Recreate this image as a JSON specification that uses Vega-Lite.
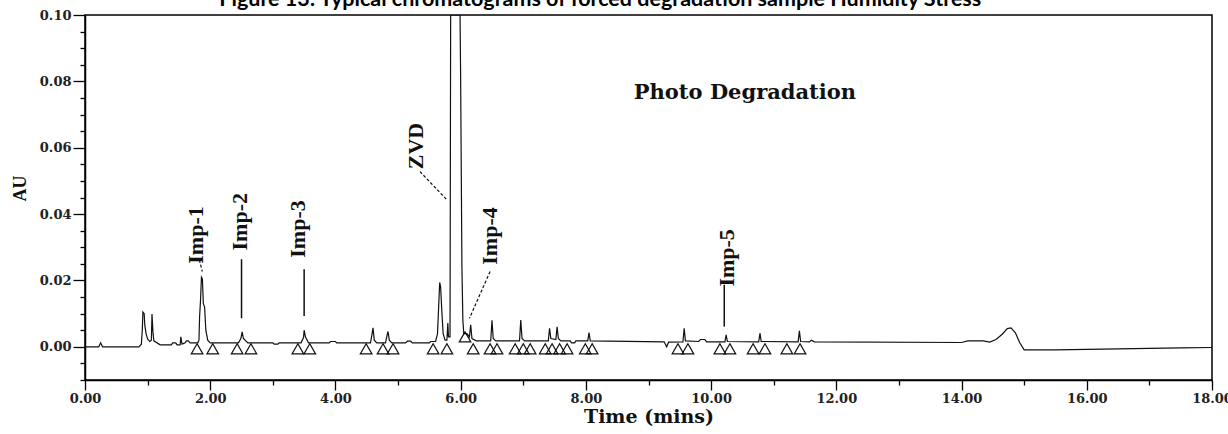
{
  "$schema": "https://vega.github.io/schema/vega-lite/v6.json",
  "width": 1127,
  "height": 365,
  "autosize": {"type": "none"},
  "padding": {"left": 85, "top": 15, "right": 16, "bottom": 54},
  "background": "white",
  "config": {
    "view": {"stroke": "#000", "strokeWidth": 1.5},
    "axis": {
      "domainColor": "#000",
      "domainWidth": 1.5,
      "tickColor": "#000",
      "tickWidth": 1.3,
      "labelFont": "DejaVu Serif",
      "labelFontWeight": "bold",
      "labelFontSize": 13,
      "labelColor": "#222",
      "titleColor": "#111",
      "titleFontWeight": "bold",
      "grid": false,
      "labelOverlap": false,
      "labelFlush": false
    }
  },
  "resolve": {"axis": {"y": "independent"}},
  "datasets": {
    "curve": [
      {"t": 0, "v": 0}, {"t": 0.22, "v": 0}, {"t": 0.25, "v": 0.0012}, {"t": 0.28, "v": 0},
      {"t": 0.86, "v": 0}, {"t": 0.9, "v": 0.0008}, {"t": 0.915, "v": 0.005}, {"t": 0.925, "v": 0.0105},
      {"t": 0.945, "v": 0.01}, {"t": 0.955, "v": 0.0066}, {"t": 0.975, "v": 0.004}, {"t": 1.0, "v": 0.0024},
      {"t": 1.035, "v": 0.0016}, {"t": 1.06, "v": 0.002}, {"t": 1.07, "v": 0.0099}, {"t": 1.085, "v": 0.0045},
      {"t": 1.1, "v": 0.0018}, {"t": 1.2, "v": 0.0006}, {"t": 1.38, "v": 0.0006}, {"t": 1.4, "v": 0.0012},
      {"t": 1.45, "v": 0.0012}, {"t": 1.47, "v": 0.0006}, {"t": 1.52, "v": 0.0006}, {"t": 1.53, "v": 0.003},
      {"t": 1.55, "v": 0.0008}, {"t": 1.6, "v": 0.0012}, {"t": 1.62, "v": 0.0018}, {"t": 1.65, "v": 0.0018},
      {"t": 1.68, "v": 0.0012}, {"t": 1.8, "v": 0.0012}, {"t": 1.82, "v": 0.002}, {"t": 1.83, "v": 0.009},
      {"t": 1.845, "v": 0.014}, {"t": 1.86, "v": 0.021}, {"t": 1.875, "v": 0.0205}, {"t": 1.89, "v": 0.013},
      {"t": 1.91, "v": 0.012}, {"t": 1.93, "v": 0.005}, {"t": 1.96, "v": 0.002}, {"t": 2.0, "v": 0.0012},
      {"t": 2.45, "v": 0.0012}, {"t": 2.49, "v": 0.0025}, {"t": 2.51, "v": 0.0045}, {"t": 2.53, "v": 0.0025},
      {"t": 2.6, "v": 0.0012}, {"t": 3.0, "v": 0.0012}, {"t": 3.02, "v": 0.0008}, {"t": 3.08, "v": 0.0008},
      {"t": 3.1, "v": 0.0012}, {"t": 3.45, "v": 0.0012}, {"t": 3.49, "v": 0.0028}, {"t": 3.5, "v": 0.005},
      {"t": 3.52, "v": 0.003}, {"t": 3.57, "v": 0.0012}, {"t": 3.9, "v": 0.0012}, {"t": 3.92, "v": 0.0016},
      {"t": 4.0, "v": 0.0016}, {"t": 4.02, "v": 0.0012}, {"t": 4.56, "v": 0.0012}, {"t": 4.59, "v": 0.0045},
      {"t": 4.6, "v": 0.0057}, {"t": 4.62, "v": 0.002}, {"t": 4.66, "v": 0.0012}, {"t": 4.8, "v": 0.0012},
      {"t": 4.83, "v": 0.004}, {"t": 4.84, "v": 0.0046}, {"t": 4.86, "v": 0.002}, {"t": 4.9, "v": 0.0012},
      {"t": 5.12, "v": 0.0012}, {"t": 5.15, "v": 0.0017}, {"t": 5.2, "v": 0.0017}, {"t": 5.23, "v": 0.0012},
      {"t": 5.5, "v": 0.0012}, {"t": 5.52, "v": 0.0016}, {"t": 5.6, "v": 0.0016}, {"t": 5.63, "v": 0.004},
      {"t": 5.645, "v": 0.0106}, {"t": 5.665, "v": 0.0194}, {"t": 5.68, "v": 0.018}, {"t": 5.7, "v": 0.0105},
      {"t": 5.72, "v": 0.004}, {"t": 5.75, "v": 0.002}, {"t": 5.78, "v": 0.002}, {"t": 5.795, "v": 0.0072},
      {"t": 5.805, "v": 0.003}, {"t": 5.83, "v": 0.003}, {"t": 5.84, "v": 0.1}, {"t": 5.99, "v": 0.1},
      {"t": 6.0, "v": 0.08}, {"t": 6.02, "v": 0.024}, {"t": 6.035, "v": 0.008},
      {"t": 6.05, "v": 0.004}, {"t": 6.1, "v": 0.004}, {"t": 6.14, "v": 0.003}, {"t": 6.16, "v": 0.0066},
      {"t": 6.18, "v": 0.0025}, {"t": 6.25, "v": 0.0018}, {"t": 6.48, "v": 0.0018}, {"t": 6.5, "v": 0.008},
      {"t": 6.52, "v": 0.0025}, {"t": 6.56, "v": 0.0018}, {"t": 6.94, "v": 0.0018}, {"t": 6.96, "v": 0.0081},
      {"t": 6.98, "v": 0.0025}, {"t": 7.02, "v": 0.0018}, {"t": 7.4, "v": 0.0018}, {"t": 7.42, "v": 0.0056},
      {"t": 7.44, "v": 0.0025}, {"t": 7.52, "v": 0.0022}, {"t": 7.54, "v": 0.006}, {"t": 7.56, "v": 0.0025},
      {"t": 7.6, "v": 0.0018}, {"t": 7.75, "v": 0.0018}, {"t": 7.77, "v": 0.0012}, {"t": 7.82, "v": 0.0012},
      {"t": 7.84, "v": 0.0018}, {"t": 8.03, "v": 0.0018}, {"t": 8.05, "v": 0.0043}, {"t": 8.07, "v": 0.0018},
      {"t": 9.25, "v": 0.0015}, {"t": 9.29, "v": 0.0}, {"t": 9.32, "v": 0.0014}, {"t": 9.55, "v": 0.0015},
      {"t": 9.57, "v": 0.0056}, {"t": 9.59, "v": 0.0018}, {"t": 9.8, "v": 0.0016}, {"t": 9.83, "v": 0.0022},
      {"t": 9.9, "v": 0.0022}, {"t": 9.93, "v": 0.0015}, {"t": 10.22, "v": 0.0015}, {"t": 10.24, "v": 0.0036},
      {"t": 10.26, "v": 0.0016}, {"t": 10.76, "v": 0.0015}, {"t": 10.78, "v": 0.0041}, {"t": 10.8, "v": 0.0016},
      {"t": 11.39, "v": 0.0015}, {"t": 11.41, "v": 0.0048}, {"t": 11.43, "v": 0.0016}, {"t": 11.57, "v": 0.0015},
      {"t": 11.6, "v": 0.002}, {"t": 11.65, "v": 0.0015}, {"t": 14.0, "v": 0.0013}, {"t": 14.1, "v": 0.0018},
      {"t": 14.35, "v": 0.0018}, {"t": 14.45, "v": 0.0014}, {"t": 14.55, "v": 0.0022}, {"t": 14.65, "v": 0.0038},
      {"t": 14.73, "v": 0.0055}, {"t": 14.79, "v": 0.0057}, {"t": 14.86, "v": 0.0042}, {"t": 14.93, "v": 0.0012},
      {"t": 15.0, "v": -0.0009}, {"t": 15.5, "v": -0.0009}, {"t": 16.5, "v": -0.0006}, {"t": 17.5, "v": -0.0003},
      {"t": 18.0, "v": -0.0002}
    ],
    "tri": [
      {"t": 1.79, "v": -0.0006}, {"t": 2.04, "v": -0.0006}, {"t": 2.43, "v": -0.0006}, {"t": 2.65, "v": -0.0006},
      {"t": 3.4, "v": -0.0006}, {"t": 3.59, "v": -0.0006}, {"t": 4.49, "v": -0.0006}, {"t": 4.76, "v": -0.0006},
      {"t": 4.92, "v": -0.0006}, {"t": 5.56, "v": -0.0006}, {"t": 5.78, "v": -0.0006}, {"t": 6.07, "v": 0.003},
      {"t": 6.2, "v": -0.0006}, {"t": 6.47, "v": -0.0006}, {"t": 6.58, "v": -0.0006}, {"t": 6.87, "v": -0.0006},
      {"t": 7.0, "v": -0.0006}, {"t": 7.11, "v": -0.0006}, {"t": 7.35, "v": -0.0006}, {"t": 7.46, "v": -0.0006},
      {"t": 7.58, "v": -0.0006}, {"t": 7.7, "v": -0.0006}, {"t": 7.99, "v": -0.0006}, {"t": 8.1, "v": -0.0006},
      {"t": 9.47, "v": -0.0006}, {"t": 9.63, "v": -0.0006}, {"t": 10.14, "v": -0.0006}, {"t": 10.3, "v": -0.0006},
      {"t": 10.67, "v": -0.0006}, {"t": 10.86, "v": -0.0006}, {"t": 11.21, "v": -0.0006}, {"t": 11.42, "v": -0.0006}
    ],
    "leadSolid": [
      {"t": 2.5, "v": 0.0264, "t2": 2.5, "v2": 0.0086},
      {"t": 3.5, "v": 0.0234, "t2": 3.5, "v2": 0.0093},
      {"t": 10.21, "v": 0.0187, "t2": 10.21, "v2": 0.0061}
    ],
    "leadDash": [
      {"t": 1.826, "v": 0.0262, "t2": 1.874, "v2": 0.0227},
      {"t": 5.35, "v": 0.0528, "t2": 5.78, "v2": 0.0443},
      {"t": 6.47, "v": 0.0227, "t2": 6.14, "v2": 0.0086}
    ],
    "labels": [
      {"t": 1.77, "v": 0.0337, "label": "Imp-1"},
      {"t": 2.48, "v": 0.0377, "label": "Imp-2"},
      {"t": 3.4, "v": 0.0355, "label": "Imp-3"},
      {"t": 5.29, "v": 0.0605, "label": "ZVD"},
      {"t": 6.47, "v": 0.0334, "label": "Imp-4"},
      {"t": 10.25, "v": 0.0268, "label": "Imp-5"}
    ],
    "annot": [
      {"t": 10.54, "v": 0.0765, "label": "Photo  Degradation"}
    ],
    "heading": [
      {"t": 8.23, "v": 0.1027, "label": "Figure 13: Typical chromatograms of forced degradation sample Humidity Stress"}
    ]
  },
  "layer": [
    {
      "data": {"name": "curve"},
      "mark": {"type": "line", "clip": true, "color": "#111", "strokeWidth": 1.2},
      "encoding": {
        "x": {
          "field": "t", "type": "quantitative",
          "scale": {"domain": [0, 18], "nice": false, "zero": false},
          "axis": {
            "title": "Time (mins)",
            "values": [0,0.5,1,1.5,2,2.5,3,3.5,4,4.5,5,5.5,6,6.5,7,7.5,8,8.5,9,9.5,10,10.5,11,11.5,12,12.5,13,13.5,14,14.5,15,15.5,16,16.5,17,17.5,18],
            "labelExpr": "datum.value % 2 === 0 ? format(datum.value, '.2f') : ''",
            "tickSize": {"condition": {"test": "datum.value % 2 === 0", "value": 10}, "value": 5},
            "labelPadding": 2,
            "titleFont": "DejaVu Serif",
            "titleFontSize": 19,
            "titleY": 36,
            "titleBaseline": "middle"
          }
        },
        "y": {
          "field": "v", "type": "quantitative",
          "scale": {"domain": [-0.01, 0.1], "nice": false, "zero": false},
          "axis": {
            "orient": "left",
            "title": "AU",
            "values": [0, 0.02, 0.04, 0.06, 0.08, 0.1],
            "format": ".2f",
            "tickSize": 12,
            "labelPadding": 2,
            "titleFont": "Liberation Serif",
            "titleFontSize": 18,
            "titleX": -65,
            "titleY": 173,
            "titleAngle": 270,
            "titleAlign": "center",
            "titleBaseline": "middle"
          }
        }
      }
    },
    {
      "data": {"name": "tri"},
      "mark": {"type": "point", "shape": "triangle-up", "filled": false, "color": "#111", "strokeWidth": 1.2, "size": 135, "opacity": 1},
      "encoding": {
        "x": {"field": "t", "type": "quantitative"},
        "y": {
          "field": "v", "type": "quantitative",
          "scale": {"domain": [-0.01, 0.1], "nice": false, "zero": false},
          "axis": {
            "orient": "left",
            "title": null,
            "values": [-0.01,-0.005,0.005,0.01,0.015,0.025,0.03,0.035,0.045,0.05,0.055,0.065,0.07,0.075,0.085,0.09,0.095],
            "labels": false,
            "tickSize": 5,
            "domain": false,
            "offset": 0
          }
        }
      }
    },
    {
      "data": {"name": "leadSolid"},
      "mark": {"type": "rule", "color": "#111", "strokeWidth": 1.5},
      "encoding": {
        "x": {"field": "t", "type": "quantitative"},
        "y": {"field": "v", "type": "quantitative", "axis": null},
        "x2": {"field": "t2"},
        "y2": {"field": "v2"}
      }
    },
    {
      "data": {"name": "leadDash"},
      "mark": {"type": "rule", "color": "#111", "strokeWidth": 1.2, "strokeDash": [3, 2]},
      "encoding": {
        "x": {"field": "t", "type": "quantitative"},
        "y": {"field": "v", "type": "quantitative", "axis": null},
        "x2": {"field": "t2"},
        "y2": {"field": "v2"}
      }
    },
    {
      "data": {"name": "labels"},
      "mark": {"type": "text", "angle": 270, "font": "Liberation Serif", "fontWeight": "bold", "fontSize": 22, "align": "center", "baseline": "middle", "color": "#111"},
      "encoding": {
        "x": {"field": "t", "type": "quantitative"},
        "y": {"field": "v", "type": "quantitative", "axis": null},
        "text": {"field": "label"}
      }
    },
    {
      "data": {"name": "annot"},
      "mark": {"type": "text", "font": "DejaVu Serif", "fontWeight": "bold", "fontSize": 21, "align": "center", "baseline": "middle", "color": "#111"},
      "encoding": {
        "x": {"field": "t", "type": "quantitative"},
        "y": {"field": "v", "type": "quantitative", "axis": null},
        "text": {"field": "label"}
      }
    },
    {
      "data": {"name": "heading"},
      "mark": {"type": "text", "font": "Lato", "fontWeight": "bold", "fontSize": 21.5, "align": "center", "baseline": "alphabetic", "color": "#000", "clip": false},
      "encoding": {
        "x": {"field": "t", "type": "quantitative"},
        "y": {"field": "v", "type": "quantitative", "axis": null},
        "text": {"field": "label"}
      }
    }
  ]
}
